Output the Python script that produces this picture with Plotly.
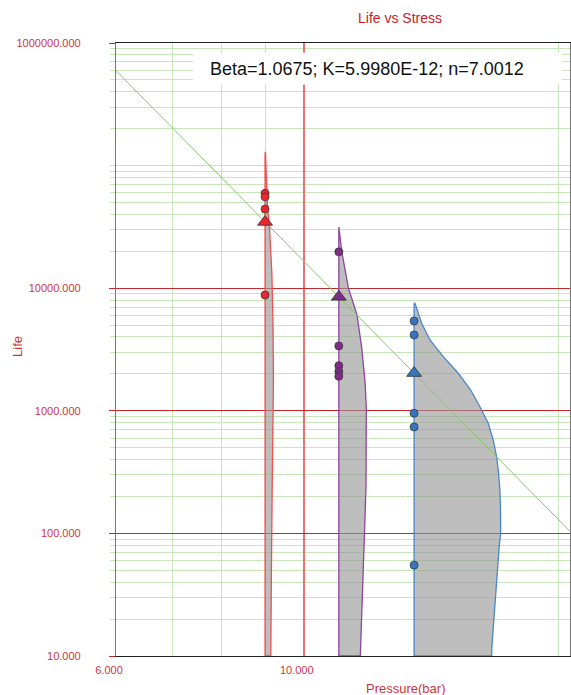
import numpy as np
import plotly.graph_objects as go

# ---------------- data ----------------
stress_levels = [9.0, 11.0, 13.5]
eta_life = [34700, 8500, 2030]

red_life = [59400, 55600, 44200, 8800]
purple_life = [19800, 3380, 2335, 2095, 1912]
blue_life = [5410, 4160, 955, 738, 55.1]

red_pdf_life = [128000, 46400, 31900, 13300, 5500, 1800, 590, 260, 50, 15, 10]
red_pdf_stress = [9.01, 9.059, 9.108, 9.168, 9.195, 9.208, 9.2, 9.178, 9.157, 9.145, 9.142]

purple_pdf_life = [31500, 19900, 10060, 6050, 3260, 1730, 1055, 479, 248, 136, 77.3, 41.6, 23.7, 13.5, 10]
purple_pdf_stress = [10.998, 11.088, 11.289, 11.558, 11.707, 11.812, 11.854, 11.854, 11.844, 11.812,
                     11.78, 11.738, 11.707, 11.675, 11.662]

blue_pdf_life = [7550, 6650, 5180, 3785, 2764, 2023, 1478, 1080, 791, 578, 422, 309, 226, 146.6,
                 100.6, 77.7, 57.2, 41.6, 30.4, 22.4, 16.2, 11.9, 10]
blue_pdf_stress = [13.53, 13.614, 13.78, 14.095, 14.614, 15.222, 15.744, 16.147, 16.515, 16.74,
                   16.896, 16.988, 17.048, 17.08, 17.08, 17.015, 16.956, 16.896, 16.832, 16.772,
                   16.74, 16.68, 16.67]

line_stress = [6.0, 20.63]
line_life = [595000, 104]

y_tick_vals = [10, 100, 1000, 10000, 1000000]
y_tick_text = ["10.000", "100.000", "1000.000", "10000.000", "1000000.000"]
x_tick_vals = [6, 10]
x_tick_text = ["6.000", "10.000"]

# ---------------- styling ----------------
RED = "#e8262b"
PURPLE = "#7d2b86"
BLUE = "#3576c0"
GRID_GREEN = "#c7e6b9"
LINE_GREEN = "#86c46c"
MAJOR_RED = "#c8262b"
LABEL_RED = "#d0343a"
FONT = "Liberation Sans"

fig = go.Figure()

pdfs = [
    (red_pdf_life, red_pdf_stress, "#f05050"),
    (purple_pdf_life, purple_pdf_stress, "#8e45a0"),
    (blue_pdf_life, blue_pdf_stress, "#4a86cc"),
]
for v, (pl, ps, col) in zip(stress_levels, pdfs):
    xs = [v] + ps + [v, v]
    ys = [pl[0]] + pl + [pl[-1], pl[0]]
    fig.add_trace(go.Scatter(x=xs, y=ys, mode="lines", fill="toself",
                             fillcolor="rgba(150,150,150,0.62)",
                             line=dict(color=col, width=1.3),
                             hoverinfo="skip", showlegend=False))

# model line
fig.add_trace(go.Scatter(x=line_stress, y=line_life, mode="lines",
                         line=dict(color=LINE_GREEN, width=1), showlegend=False))

# data points
for v, lives, col in zip(stress_levels, [red_life, purple_life, blue_life], [RED, PURPLE, BLUE]):
    fig.add_trace(go.Scatter(x=[v] * len(lives), y=lives, mode="markers",
                             marker=dict(symbol="circle", size=8, color=col,
                                         line=dict(color="#3a3a3a", width=0.8)),
                             showlegend=False))

# triangles
fig.add_trace(go.Scatter(x=stress_levels, y=eta_life, mode="markers",
                         marker=dict(symbol="triangle-up", size=13, color=[RED, PURPLE, BLUE],
                                     line=dict(color="#333333", width=0.8)),
                         showlegend=False))

# minor grid values
y_minor = []
for d in range(1, 6):
    for k in range(1, 10):
        val = k * 10 ** d
        if val not in y_tick_vals:
            y_minor.append(val)
x_minor = [7, 8, 9, 20]

fig.update_layout(
    width=571, height=695,
    margin=dict(l=116, r=1, t=43, b=39),
    paper_bgcolor="white", plot_bgcolor="white",
    font=dict(family=FONT, color=LABEL_RED),
    title=dict(text="Life vs Stress", x=400 / 571, xanchor="center", y=1 - 18 / 695,
               yanchor="middle", font=dict(size=14, color="#c8202a", family=FONT)),
    xaxis=dict(type="log", range=[np.log10(6), np.log10(20.63)],
               tickmode="array", tickvals=x_tick_vals, ticktext=x_tick_text,
               ticks="", showgrid=True, gridcolor="#e87070", gridwidth=2,
               tickfont=dict(size=11, color=LABEL_RED, family=FONT),
               ticklabelshift=-7, ticklabelstandoff=4,
               showline=True, linecolor="#222222", linewidth=1.2, mirror=True,
               zeroline=False,
               minor=dict(tickmode="array", tickvals=x_minor, showgrid=True,
                          gridcolor=GRID_GREEN, gridwidth=1, ticks="")),
    yaxis=dict(type="log", range=[1, 6],
               tickmode="array", tickvals=y_tick_vals, ticktext=y_tick_text,
               ticks="outside", ticklen=6, tickcolor=MAJOR_RED,
               showgrid=True, gridcolor=MAJOR_RED, gridwidth=1,
               tickfont=dict(size=11, color=LABEL_RED, family=FONT),
               ticklabelstandoff=26,
               showline=True, linecolor="#777777", linewidth=1.2, mirror=True,
               zeroline=False,
               minor=dict(tickmode="array", tickvals=y_minor, showgrid=True,
                          gridcolor=GRID_GREEN, gridwidth=1, ticks="outside",
                          ticklen=5, tickcolor=GRID_GREEN)),
    shapes=[dict(type="rect", xref="paper", yref="paper",
                 x0=(193 - 116) / 454, x1=(562 - 116) / 454,
                 y0=(655.8 - 85) / 612.5, y1=(655.8 - 53) / 612.5,
                 fillcolor="white", line=dict(width=0), layer="above")],
    annotations=[
        dict(text="Beta=1.0675; K=5.9980E-12; n=7.0012", xref="paper", yref="paper",
             x=(367 - 116) / 454, y=(655.8 - 69) / 612.5, showarrow=False,
             xanchor="center", yanchor="middle",
             font=dict(size=18, color="#111111", family=FONT)),
        dict(text="Pressure(bar)", xref="paper", yref="paper",
             x=(405 - 116) / 454, y=(655.8 - 688) / 612.5, showarrow=False,
             xanchor="center", yanchor="middle",
             font=dict(size=13, color=LABEL_RED, family=FONT)),
        dict(text="Life", xref="paper", yref="paper",
             x=(18 - 116) / 454, y=(655.8 - 347) / 612.5, showarrow=False,
             xanchor="center", yanchor="middle", textangle=-90,
             font=dict(size=13, color=LABEL_RED, family=FONT)),
    ],
)

fig.write_html("out.html", config={"displayModeBar": False},
               post_script="document.body.style.margin='0';document.body.style.overflow='hidden';")
